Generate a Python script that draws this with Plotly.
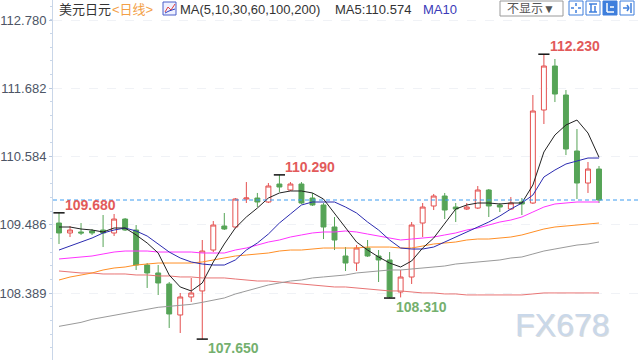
import plotly.graph_objects as go

# ---------------- data ----------------
days = list(range(1, 51))

opens = [109.516, 109.356, 109.372, 109.388, 109.404, 109.356, 109.580, 109.404, 108.841, 108.713,
         108.536, 108.038, 108.327, 108.424, 109.082, 109.468, 109.452, 109.902, 109.918, 109.854,
         110.143, 110.047, 110.143, 109.918, 109.806, 109.452, 108.986, 108.873, 109.114, 108.986,
         108.922, 108.407, 108.648, 109.516, 109.790, 109.950, 109.773, 109.741, 109.757, 110.047,
         109.806, 109.741, 109.854, 109.838, 111.333, 112.040, 111.574, 110.674, 110.159, 110.384]
highs = [109.680, 109.468, 109.516, 109.420, 109.645, 109.661, 109.597, 109.484, 108.873, 108.841,
         108.568, 108.391, 108.633, 109.243, 109.548, 109.677, 109.918, 110.175, 109.999, 110.159,
         110.290, 110.175, 110.175, 109.999, 109.838, 109.613, 109.130, 109.162, 109.243, 109.082,
         109.050, 108.761, 109.532, 109.838, 109.983, 109.999, 109.838, 109.838, 110.111, 110.063,
         109.838, 109.934, 109.918, 111.574, 112.230, 112.153, 111.654, 111.027, 110.497, 110.432]
lows = [109.179, 109.291, 109.324, 109.324, 109.130, 109.307, 109.388, 108.761, 108.472, 108.359,
        107.829, 107.748, 108.247, 107.650, 109.050, 109.404, 109.436, 109.838, 109.773, 109.838,
        110.015, 110.031, 109.822, 109.790, 109.259, 109.082, 108.745, 108.745, 108.970, 108.568,
        108.310, 108.320, 108.536, 109.291, 109.725, 109.580, 109.532, 109.725, 109.741, 109.613,
        109.693, 109.725, 109.645, 109.822, 111.108, 111.461, 110.609, 109.902, 109.999, 109.838]
closes = [109.356, 109.404, 109.356, 109.356, 109.356, 109.580, 109.404, 108.841, 108.713, 108.552,
          108.054, 108.327, 108.391, 109.066, 109.484, 109.420, 109.902, 109.918, 109.854, 110.111,
          110.095, 110.143, 109.838, 109.806, 109.452, 109.243, 108.873, 109.114, 108.986, 108.922,
          108.327, 108.648, 109.484, 109.773, 109.950, 109.725, 109.741, 109.773, 110.047, 109.790,
          109.773, 109.838, 109.822, 111.317, 112.040, 111.590, 110.706, 110.159, 110.384, 109.886]

ma5 = [109.452, 109.452, 109.420, 109.404, 109.372, 109.436, 109.436, 109.324, 109.195, 109.034,
       108.680, 108.488, 108.424, 108.552, 108.890, 109.179, 109.436, 109.613, 109.757, 109.918,
       109.999, 110.031, 110.031, 109.999, 109.902, 109.677, 109.436, 109.211, 109.082, 108.970,
       108.873, 108.809, 108.906, 109.114, 109.275, 109.516, 109.741, 109.806, 109.838, 109.838,
       109.822, 109.838, 109.838, 110.127, 110.658, 110.931, 111.092, 111.172, 110.963, 110.574]
ma10 = [109.082, 109.146, 109.211, 109.275, 109.356, 109.404, 109.436, 109.388, 109.307, 109.179,
        109.050, 108.954, 108.890, 108.857, 108.841, 108.841, 108.922, 109.082, 109.195, 109.339,
        109.516, 109.661, 109.806, 109.854, 109.854, 109.854, 109.773, 109.677, 109.532, 109.404,
        109.243, 109.114, 109.098, 109.098, 109.130, 109.211, 109.291, 109.372, 109.452, 109.532,
        109.629, 109.741, 109.838, 109.966, 110.256, 110.368, 110.465, 110.513, 110.561, 110.561]
ma30 = [108.938, 108.954, 108.970, 108.986, 109.018, 109.050, 109.066, 109.066, 109.066, 109.050,
        109.050, 109.050, 109.050, 109.034, 109.034, 109.034, 109.082, 109.114, 109.162, 109.211,
        109.243, 109.291, 109.324, 109.356, 109.372, 109.372, 109.388, 109.372, 109.339, 109.307,
        109.275, 109.243, 109.259, 109.275, 109.291, 109.324, 109.356, 109.404, 109.436, 109.484,
        109.532, 109.564, 109.613, 109.693, 109.773, 109.822, 109.838, 109.854, 109.854, 109.854]
ma60 = [108.600, 108.648, 108.680, 108.713, 108.761, 108.793, 108.809, 108.841, 108.857, 108.873,
        108.873, 108.873, 108.873, 108.890, 108.922, 108.954, 108.986, 109.002, 109.018, 109.034,
        109.066, 109.082, 109.082, 109.098, 109.114, 109.114, 109.114, 109.114, 109.130, 109.130,
        109.130, 109.114, 109.114, 109.146, 109.179, 109.195, 109.211, 109.243, 109.259, 109.259,
        109.275, 109.291, 109.324, 109.372, 109.420, 109.452, 109.468, 109.484, 109.500, 109.516]
ma100 = [107.855, 107.887, 107.919, 107.968, 108.000, 108.032, 108.064, 108.097, 108.129, 108.161,
         108.177, 108.193, 108.209, 108.241, 108.279, 108.311, 108.375, 108.424, 108.472, 108.520,
         108.552, 108.584, 108.600, 108.633, 108.649, 108.665, 108.681, 108.713, 108.729, 108.745,
         108.761, 108.761, 108.777, 108.793, 108.809, 108.825, 108.857, 108.873, 108.890, 108.906,
         108.922, 108.954, 108.970, 109.018, 109.066, 109.098, 109.130, 109.162, 109.179, 109.211]
ma200 = [108.745, 108.729, 108.713, 108.713, 108.697, 108.697, 108.697, 108.681, 108.681, 108.665,
         108.665, 108.649, 108.649, 108.633, 108.633, 108.633, 108.616, 108.600, 108.584, 108.584,
         108.568, 108.552, 108.536, 108.520, 108.504, 108.488, 108.488, 108.472, 108.456, 108.440,
         108.424, 108.424, 108.408, 108.392, 108.392, 108.376, 108.376, 108.360, 108.360, 108.360,
         108.360, 108.360, 108.360, 108.376, 108.392, 108.392, 108.392, 108.392, 108.392, 108.392]

tick_vals = [112.780, 111.682, 110.584, 109.486, 108.389]
tick_text = ["112.780", "111.682", "110.584", "109.486", "108.389"]

high_marks = [1, 21, 45]
low_marks = [14, 31]

# ---------------- styling ----------------
UP = "#e4504f"
DOWN = "#56a457"
LATIN = "Liberation Sans, Noto Sans CJK SC, sans-serif"

L, W, H = 53, 587, 360


def px(x):
    return (x - L) / W


def py(y):
    return 1 - y / H


fig = go.Figure()

fig.add_trace(go.Candlestick(
    x=days, open=opens, high=highs, low=lows, close=closes,
    increasing=dict(line=dict(color=UP, width=1), fillcolor="white"),
    decreasing=dict(line=dict(color=DOWN, width=1), fillcolor=DOWN),
    whiskerwidth=0, hoverinfo="skip",
))

ma_list = [(ma200, "#e87474"), (ma100, "#9a9a9a"), (ma60, "#ff8f26"),
           (ma30, "#ff33ff"), (ma10, "#2b2bb0"), (ma5, "#222222")]
for vals, col in ma_list:
    fig.add_trace(go.Scatter(x=days, y=vals, mode="lines",
                             line=dict(color=col, width=1), hoverinfo="skip"))

mx = [days[i - 1] for i in high_marks] + [days[i - 1] for i in low_marks]
my = [highs[i - 1] for i in high_marks] + [lows[i - 1] for i in low_marks]
fig.add_trace(go.Scatter(x=mx, y=my, mode="markers",
                         marker=dict(symbol="line-ew", size=8,
                                     line=dict(width=1.5, color="#111")),
                         hoverinfo="skip"))

annotations = []
for i in high_marks:
    annotations.append(dict(x=days[i - 1], y=highs[i - 1], xref="x", yref="y",
                            text=f"<b>{highs[i - 1]:.3f}</b>", showarrow=False,
                            xanchor="left", yanchor="middle", xshift=4, yshift=8,
                            font=dict(family=LATIN, size=14, color="#e25a5a")))
for i in low_marks:
    annotations.append(dict(x=days[i - 1], y=lows[i - 1], xref="x", yref="y",
                            text=f"<b>{lows[i - 1]:.3f}</b>", showarrow=False,
                            xanchor="left", yanchor="middle", xshift=4, yshift=-9,
                            font=dict(family=LATIN, size=14, color="#74b06e")))

# header
hdr = [
    (57, "美元日元", "#333333"),
    (110, "&lt;日线&gt;", "#f3a046"),
    (178, "MA(5,10,30,60,100,200)", "#333333"),
    (333, f"MA5:{ma5[-1]:.3f}", "#333333"),
    (421, "MA10", "#3a3ab8"),
]
for x0, t, c in hdr:
    annotations.append(dict(x=px(x0), y=py(9), xref="paper", yref="paper", text=t,
                            showarrow=False, xanchor="left", yanchor="middle",
                            font=dict(family=LATIN, size=13, color=c)))
annotations.append(dict(x=px(531), y=py(9), xref="paper", yref="paper", text="不显示▼",
                        showarrow=False, xanchor="center", yanchor="middle",
                        font=dict(family=LATIN, size=12, color="#555")))
# watermark (soft shadow + face)
annotations.append(dict(x=px(563), y=py(326), xref="paper", yref="paper", text="FX678",
                        showarrow=False, xanchor="center", yanchor="middle",
                        font=dict(family="Liberation Sans, sans-serif", size=32, color="#dcdcdc")))
annotations.append(dict(x=px(562), y=py(325), xref="paper", yref="paper", text="FX678",
                        showarrow=False, xanchor="center", yanchor="middle",
                        font=dict(family="Liberation Sans, sans-serif", size=32, color="#c9d8ea")))

shapes = [
    dict(type="line", xref="paper", yref="y", x0=0, x1=1, y0=closes[-1], y1=closes[-1],
         line=dict(color="#3d9cf0", width=1, dash="4px,3px")),
    # chart icon
    dict(type="rect", xref="paper", yref="paper", x0=px(163), x1=px(176), y0=py(15), y1=py(2),
         line=dict(color="#4a5fc8", width=1), fillcolor="#eef0ff"),
    dict(type="path", xref="paper", yref="paper",
         path=f"M {px(165)} {py(12)} L {px(168)} {py(7)} L {px(171)} {py(10)} L {px(175)} {py(4)}",
         line=dict(color="#e04040", width=1)),
    dict(type="path", xref="paper", yref="paper",
         path=f"M {px(165)} {py(13)} L {px(169)} {py(11)} L {px(175)} {py(9)}",
         line=dict(color="#3040c0", width=1)),
    # dropdown box
    dict(type="rect", xref="paper", yref="paper", x0=px(500), x1=px(563), y0=py(16), y1=py(1),
         line=dict(color="#9a9a9a", width=1), fillcolor="white"),
]
icon_blue = "#3f7fdc"
for i, x0 in enumerate([569, 586, 603, 620]):
    filled = (i == 2)
    shapes.append(dict(type="rect", xref="paper", yref="paper", x0=px(x0), x1=px(x0 + 14),
                       y0=py(15), y1=py(1), line=dict(color=icon_blue, width=1),
                       fillcolor=icon_blue if filled else "white"))
    gc = "white" if filled else icon_blue
    cx = x0 + 7
    if i == 0:
        segs = [(cx, 3, cx, 6), (cx, 10, cx, 13), (x0 + 2, 8, x0 + 5, 8), (x0 + 9, 8, x0 + 12, 8)]
    elif i == 1:
        segs = [(x0 + 3, 4, x0 + 11, 4), (x0 + 3, 12, x0 + 11, 12), (x0 + 5, 4, x0 + 5, 12),
                (x0 + 9, 6, x0 + 9, 12)]
    elif i == 2:
        segs = [(x0 + 4, 3, x0 + 4, 12), (x0 + 4, 12, x0 + 11, 12), (x0 + 7, 7, x0 + 11, 7)]
    else:
        segs = [(x0 + 3, 8, x0 + 9, 8), (x0 + 7, 5, x0 + 9, 8), (x0 + 7, 11, x0 + 9, 8),
                (x0 + 11, 3, x0 + 11, 13)]
    for (a, b, c, d) in segs:
        shapes.append(dict(type="line", xref="paper", yref="paper", x0=px(a), y0=py(b),
                           x1=px(c), y1=py(d), line=dict(color=gc, width=1.5)))

x_left = days[0] - 6 / 11.02
x_right = days[-1] + 41 / 11.02

fig.update_layout(
    width=640, height=360,
    margin=dict(l=L, r=0, t=0, b=0),
    paper_bgcolor="white", plot_bgcolor="white",
    showlegend=False, boxgap=0.36,
    annotations=annotations, shapes=shapes,
    xaxis=dict(range=[x_left, x_right], showgrid=False, zeroline=False, showline=False,
               showticklabels=False, ticks="", rangeslider=dict(visible=False), fixedrange=True),
    yaxis=dict(range=[107.314, 113.1015], tickmode="array", tickvals=tick_vals, ticktext=tick_text,
               ticks="outside", ticklen=3, tickcolor="#b9c8de", showline=True, linecolor="#c9d6e8",
               linewidth=1, zeroline=False, showgrid=True, gridcolor="#f0f2f6", griddash="dash",
               tickfont=dict(family=LATIN, size=13, color="#4d5566"),
               minor=dict(ticks="outside", ticklen=2, tickcolor="#c9d6e8",
                          tick0=108.389, dtick=0.2196, showgrid=False)),
)

fig.write_html("out.html")
